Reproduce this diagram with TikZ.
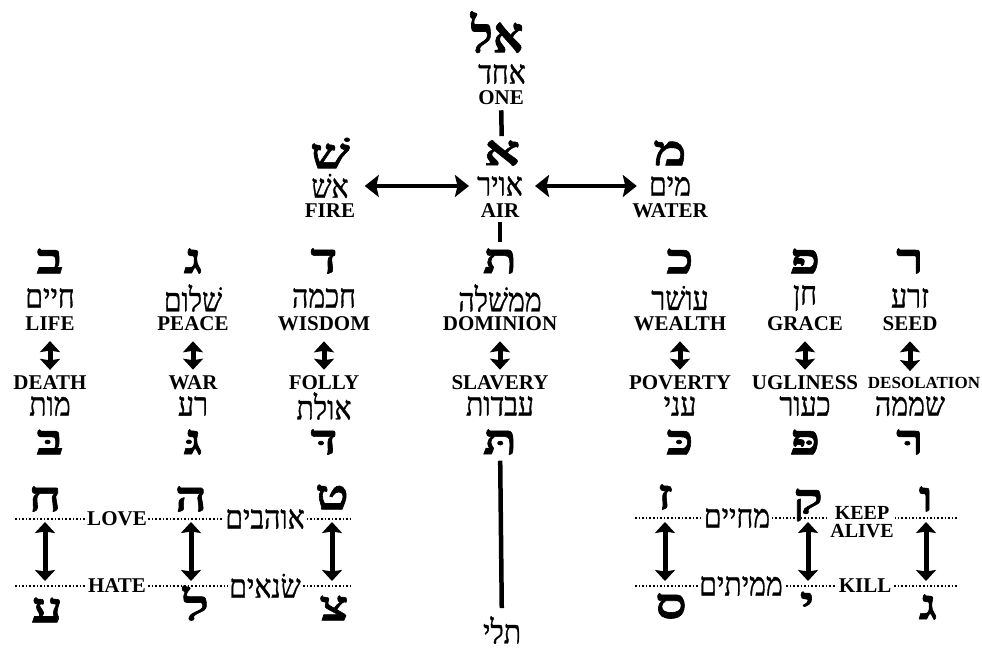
\documentclass[tikz,border=0pt]{standalone}
\usepackage{fontspec}
\setmainfont{Liberation Serif}
\newfontfamily\heb[Script=Hebrew,FakeStretch=0.86,FakeBold=0.9]{Liberation Serif}
\newfontfamily\hebL[Script=Hebrew,FakeStretch=1.35,FakeBold=1.4]{Liberation Serif Bold}
\newfontfamily\hebT[Script=Hebrew,FakeStretch=0.95,FakeBold=1.4]{Liberation Serif Bold}
\TeXXeTstate=1
\usetikzlibrary{arrows.meta}
\newcommand\HB[1]{\beginR #1\endR}
\tikzset{
  eng/.style={font=\fontsize{21}{20}\selectfont\bfseries, inner sep=0pt, align=center},
  engs/.style={font=\fontsize{17}{17}\selectfont\bfseries, inner sep=0pt},
  hw/.style={font=\heb\fontsize{33}{33}\selectfont, inner sep=0pt},
  hl/.style={font=\hebL\fontsize{42}{42}\selectfont, inner sep=0pt},
  lab/.style={fill=white, inner sep=1.5pt},
  dbl/.style={line width=5pt, {Stealth[length=11pt,width=20pt,inset=1.5pt]}-{Stealth[length=11pt,width=20pt,inset=1.5pt]}},
  hdbl/.style={line width=4.5pt, {Stealth[length=14pt,width=22pt,inset=2.5pt]}-{Stealth[length=14pt,width=22pt,inset=2.5pt]}},
  vline/.style={line width=4.5pt},
  dots/.style={dotted, line width=1.6pt}
}
\begin{document}
\begin{tikzpicture}[x=1pt,y=-1pt]
\useasboundingbox (0,0) rectangle (982,651);
% top
\node[inner sep=0pt, font=\hebT\fontsize{50}{50}\selectfont] (el) at (497,32) {\HB{אל}};
\node[hw] (ehad) at (502,74) {\HB{אחד}};
\node[eng] (one) at (501,98) {ONE};
% second row
\node[hl] (alef) at (502,153) {א};
\node[hw] (avir) at (500,186) {\HB{אויר}};
\node[eng] (air) at (500,211) {AIR};
\node[hl] (shin) at (330,153) {שׁ};
\node[hw] (esh) at (330,186) {\HB{אשׁ}};
\node[eng] (fire) at (330,211) {FIRE};
\node[hl] (mem) at (670,153) {מ};
\node[hw] (mayim) at (670,186) {\HB{מים}};
\node[eng] (water) at (670,211) {WATER};
\draw[vline] (one) -- (alef) [shorten <=5pt, shorten >=4pt];
\draw[hdbl, shorten <=16pt, shorten >=8pt] (esh.east) -- (avir.west);
\draw[hdbl, shorten <=12pt, shorten >=12pt] (avir.east) -- (mayim.west);
% row three
\foreach \n/\x/\L/\Hu/\Eu/\El/\Hl/\Ld in {
  b/50/ב/חיים/LIFE/DEATH/מות/בּ,
  g/193/ג/שׁלום/PEACE/WAR/רע/גּ,
  d/324/ד/חכמה/WISDOM/FOLLY/אולת/דּ,
  t/500/ת/ממשׁלה/DOMINION/SLAVERY/עבדות/תּ,
  k/680/כ/עושׁר/WEALTH/POVERTY/עני/כּ,
  p/805/פ/חן/GRACE/UGLINESS/כעור/פּ}{
  \node[hl] (L\n) at (\x,261) {\L};
  \node[hw] (Hu\n) at (\x,298) {\HB{\Hu}};
  \node[eng] (Eu\n) at (\x,324) {\Eu};
  \node[eng] (El\n) at (\x,383) {\El};
  \node[hw] (Hl\n) at (\x,406) {\HB{\Hl}};
  \node[hl] (Ld\n) at (\x,442) {\Ld};
  \draw[dbl, shorten <=10pt, shorten >=6pt] (Eu\n) -- (El\n);
}
\node[hl] (Lr) at (910,261) {ר};
\node[hw] (Hur) at (910,298) {\HB{זרע}};
\node[eng] (Eur) at (910,324) {SEED};
\node[engs] (Elr) at (924,383) {DESOLATION};
\node[hw] (Hlr) at (910,406) {\HB{שממה}};
\node[hl] (Ldr) at (910,442) {רּ};
\draw[dbl, shorten <=10pt, shorten >=6pt] (Eur) -- (Elr.north -| Eur);
\draw[vline, shorten <=4pt, shorten >=6pt] (air) -- (Lt);
% tali
\node[hw] (tali) at (502,630) {\HB{תלי}};
\draw[vline, shorten <=6pt, shorten >=8pt] (Ldt) -- (tali);
% bottom left
\coordinate (lA) at (15,519); \coordinate (lB) at (353,519);
\coordinate (lC) at (15,586); \coordinate (lD) at (353,586);
\draw[dots] (lA) -- (lB);
\draw[dots] (lC) -- (lD);
\node[eng, lab] (love) at (117,519) {LOVE};
\node[hw, lab] (ohavim) at (265,519) {\HB{אוהבים}};
\node[eng, lab] (hate) at (117,586) {HATE};
\node[hw, lab] (sonim) at (265,586) {\HB{שׂנאים}};
\node[hl] (het) at (45,499) {ח};
\node[hl] (he) at (191,499) {ה};
\node[hl] (tet) at (332,497) {ט};
\node[hl] (ayin) at (47,610) {ע};
\node[hl] (lamed) at (196,603) {ל};
\node[hl] (tsadi) at (334,608) {צ};
\draw[dbl] (het |- 0,522) -- (het |- 0,581);
\draw[dbl] (he |- 0,522) -- (he |- 0,581);
\draw[dbl] (tet |- 0,522) -- (tet |- 0,581);
% bottom right
\coordinate (rA) at (635,518); \coordinate (rB) at (958,518);
\coordinate (rC) at (635,586); \coordinate (rD) at (958,586);
\draw[dots] (rA) -- (rB);
\draw[dots] (rC) -- (rD);
\node[hw, lab] (mehayim) at (737,518) {\HB{מחיים}};
\node[eng, lab, font=\fontsize{20}{18}\selectfont\bfseries] (keep) at (862,522) {KEEP\\ALIVE};
\node[eng, lab] (kill) at (865,586) {KILL};
\node[hw, lab] (memitim) at (741,586) {\HB{ממיתים}};
\node[hl] (zayin) at (665,497) {ז};
\node[hl] (qof) at (808,505) {ק};
\node[hl] (vav) at (926,499) {ו};
\node[hl] (samekh) at (671,606) {ס};
\node[hl] (yod) at (807,604) {י};
\node[hl] (gimel) at (928,607) {ג};
\draw[dbl] (zayin |- 0,522) -- (zayin |- 0,581);
\draw[dbl] (qof |- 0,522) -- (qof |- 0,581);
\draw[dbl] (vav |- 0,522) -- (vav |- 0,581);
\end{tikzpicture}
\end{document}
